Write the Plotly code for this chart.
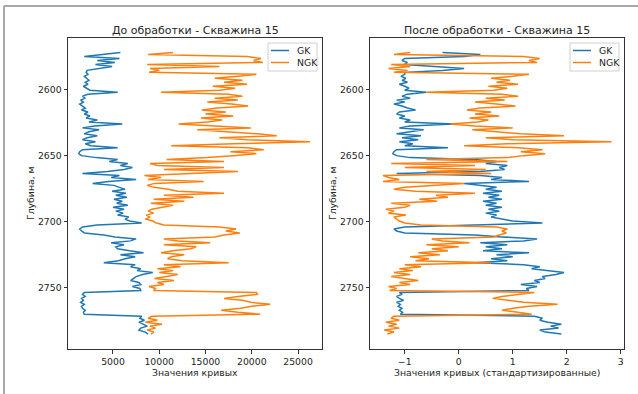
import plotly.graph_objects as go

# ---- data ----
depth = [
    2572.0, 2573.5, 2575.0, 2576.5, 2578.0, 2579.5, 2581.0, 2582.5, 2584.0, 2585.5,
    2587.0, 2588.5, 2590.0, 2591.5, 2593.0, 2594.5, 2596.0, 2597.5, 2599.0, 2600.5,
    2602.0, 2603.5, 2605.0, 2606.5, 2608.0, 2609.5, 2611.0, 2612.5, 2614.0, 2615.5,
    2617.0, 2618.5, 2620.0, 2621.5, 2623.0, 2624.5, 2626.0, 2627.5, 2629.0, 2630.5,
    2632.0, 2633.5, 2635.0, 2636.5, 2638.0, 2639.5, 2641.0, 2642.5, 2644.0, 2645.5,
    2647.0, 2648.5, 2650.0, 2651.5, 2653.0, 2654.5, 2656.0, 2657.5, 2659.0, 2660.5,
    2662.0, 2663.5, 2665.0, 2666.5, 2668.0, 2669.5, 2671.0, 2672.5, 2674.0, 2675.5,
    2677.0, 2678.5, 2680.0, 2681.5, 2683.0, 2684.5, 2686.0, 2687.5, 2689.0, 2690.5,
    2692.0, 2693.5, 2695.0, 2696.5, 2698.0, 2699.5, 2701.0, 2702.5, 2704.0, 2705.5,
    2707.0, 2708.5, 2710.0, 2711.5, 2713.0, 2714.5, 2716.0, 2717.5, 2719.0, 2720.5,
    2722.0, 2723.5, 2725.0, 2726.5, 2728.0, 2729.5, 2731.0, 2732.5, 2734.0, 2735.5,
    2737.0, 2738.5, 2740.0, 2741.5, 2743.0, 2744.5, 2746.0, 2747.5, 2749.0, 2750.5,
    2752.0, 2753.5, 2755.0, 2756.5, 2758.0, 2759.5, 2761.0, 2762.5, 2764.0, 2765.5,
    2767.0, 2768.5, 2770.0, 2771.5, 2773.0, 2774.5, 2776.0, 2777.5, 2779.0, 2780.5,
    2782.0, 2783.5, 2785.0,
]

gk_raw = [
    5800, 3500, 1900, 5700, 3300, 5200, 3100, 4900, 3600, 2200,
    2100, 2300, 1900, 2200, 2400, 2000, 2300, 1800, 2100, 2500,
    5500, 2300, 1700, 2000, 1500, 1800, 1400, 1700, 2000, 1600,
    2300, 1900, 2500, 2100, 3300, 2400, 6000, 3000, 1700, 3500,
    2400, 1900, 3300, 2200, 1700, 3100, 2000, 2600, 5500, 1700,
    1400, 1300, 1600, 3200, 5500, 4600, 6600, 5800, 7100, 6200,
    4400, 1700, 5700, 4800, 7500, 4500, 2800, 5100, 5700, 6300,
    4900, 6400, 5300, 6500, 5100, 6000, 5400, 6600, 5000, 6200,
    5300, 6100, 5500, 6700, 6300, 6800, 8100, 3300, 1700, 1400,
    1600, 1900, 4000, 5200, 7500, 6900, 4800, 6200, 5300, 5500,
    6800, 8300, 5800, 7400, 6300, 5600, 4000, 7400, 6900, 8000,
    7600, 9300, 8200, 7500, 7200, 6900, 7800, 8000, 7100, 7900,
    8000, 1900, 1700, 2000, 1600, 1800, 1500, 1900, 1600, 1700,
    2000, 1800, 1900, 8100, 7900, 8400, 7800, 8200, 8700, 8000,
    7800, 8500, 8800,
]

ngk_raw = [
    11500, 8800, 19500, 21000, 20200, 21200, 8700, 16500, 9000, 10000,
    8900, 20500, 18500, 16000, 19000, 17000, 19500, 15800, 18200, 16500,
    10200, 17500, 19000, 16000, 18500, 15200, 17800, 19600, 16300, 14600,
    17200, 15000, 18000, 14500, 16800, 15200, 12100, 15500, 19900, 14100,
    18000, 20600, 22700, 16500, 19500, 26300, 18000, 11300, 19500, 21300,
    17700, 20500, 18000, 15200, 10800, 17000, 9000, 9800, 17000, 10500,
    18500, 12300, 8400, 10200, 8800, 14800, 9500, 8700, 9400, 11000,
    12000, 17000, 10500, 13700, 9400, 12700, 9100, 11500, 10300, 9200,
    8800, 9400, 8600, 9000, 8500, 9300, 9700, 10500, 16500, 18300,
    17200, 18700, 17000, 16000, 10500, 12000, 15500, 10500, 14000, 13400,
    11500, 10200, 12700, 11300, 10900, 12500, 17500, 10500, 12300, 9800,
    11500, 10000, 12000, 10800, 9500, 11600, 9800, 10500, 8900, 9600,
    9400, 20500, 20600, 18500, 17000, 19000, 19900, 22000, 20000, 18800,
    16700, 18500, 20900, 9200, 8800, 9800, 8500, 10300, 9000, 9600,
    8700, 9400, 9100,
]

gk_std = [
    -0.3, 0.4, 0.1, -1.0, -1.05, -0.95, -1.0, -0.4, 0.1, -0.3,
    -1.0, -1.0, -1.07, -0.98, -1.05, -0.95, -1.1, -1.0, -0.92, -1.0,
    -0.6, -0.95, -1.05, -0.9, -1.15, -1.0, -1.2, -1.05, -0.95, -0.8,
    -1.1, -1.15, -1.0, -1.1, -0.9, -1.0, -0.1, -0.9, -1.1, -0.65,
    -0.95, -1.15, -0.7, -1.05, -0.75, -1.1, -0.85, -1.0, -0.2, -1.15,
    -1.2, -1.22, -1.15, -0.9, 0.3, 0.7, 0.5, 0.9, 0.75, 0.85,
    0.4, -1.15, 0.4, 0.8, 0.6, 1.3, 0.1, 0.4, 0.7, 0.5,
    0.8, 0.45, 0.75, 0.55, 0.8, 0.45, 0.7, 0.5, 0.8, 0.55,
    0.75, 0.5, 0.7, 0.6, 0.8, 1.0, 1.55, 0.2, -1.0, -1.2,
    -1.15, -1.0, 0.3, 0.8, 1.45, 1.2, 0.4, 0.9, 0.5, 0.8,
    0.45, 1.3, 0.7, 1.0, 0.6, 0.9, 0.3, 1.2, 1.5, 1.35,
    1.7, 1.95, 1.8, 1.55, 1.6, 1.4, 1.5, 1.15, 1.45, 1.25,
    1.3, -1.1, -1.05, -1.15, -1.1, -1.02, -1.15, -1.08, -1.12, -1.05,
    -1.1, -1.04, -1.08, 1.4, 1.55, 1.5, 1.65, 1.9, 1.7, 1.85,
    1.5, 1.6, 1.9,
]

ngk_std = [
    -0.9, -1.2, 1.2, 1.5, 1.3, 1.45, -1.25, -0.9, -1.3, -0.95,
    -1.2, 1.3, 1.0, 0.6, 0.95, 0.7, 1.1, 0.55, 0.9, 0.65,
    -0.6, 0.8, 1.1, 0.5, 0.85, 0.3, 0.7, 1.05, 0.4, 0.15,
    0.6, 0.3, 0.75, 0.2, 0.55, 0.35, -0.15, 0.3, 1.0, 0.25,
    0.7, 1.15, 1.95, 0.5, 1.0, 2.83, 0.9, 0.1, 1.1, 1.55,
    1.15, 1.6, 1.2, 0.9, -0.6, 0.9, -1.25, 0.3, -1.0, 0.5,
    -0.6, 0.6, -1.4, -1.3, -1.1, -1.4, 0.1, -0.5, -1.0, -1.2,
    -0.8, 0.3, -0.42, -0.2, -0.73, -0.4, -1.25, -0.9, -1.0, -1.35,
    -1.2, -1.3, -0.98, -1.2, -1.15, -1.1, -1.0, -0.7, 0.7, 0.9,
    0.8, 0.88, 0.75, 0.65, -0.5, -0.3, 0.2, -0.6, 0.0, -0.5,
    -0.2, -0.75, -0.35, -0.9, -0.55, -0.8, 0.6, -1.0, -0.7, -1.1,
    -0.85, -1.2, -0.9, -1.25, -1.0, -0.75, -1.1, -0.9, -1.3, -1.15,
    -1.28, 1.4, 1.1, 0.8, 0.63, 0.9, 1.2, 1.83, 1.3, 1.0,
    0.8, 1.1, 1.35, -1.2, -1.25, -1.1, -1.35, -1.15, -1.3, -1.1,
    -1.38, -1.2, -1.32,
]

series_names = ["GK", "NGK"]
depth_ticks = [2600, 2650, 2700, 2750]
raw_ticks = [5000, 10000, 15000, 20000, 25000]
raw_tick_text = ["5000", "10000", "15000", "20000", "25000"]
std_ticks = [-1, 0, 1, 2, 3]
std_tick_text = ["\u22121", "0", "1", "2", "3"]
titles = ["До обработки - Скважина 15", "После обработки - Скважина 15"]
xlabels = ["Значения кривых", "Значения кривых (стандартизированные)"]
ylabel = "Глубина, м"

# ---- layout in pixels ----
W, H = 638, 394
def fx(x):
    return x / W
def fy(y):
    return 1 - y / H

BLUE, ORANGE = "#1f77b4", "#ff7f0e"
COLORS = [BLUE, ORANGE]
FONT = "DejaVu Sans"
TXT = "#262626"

fig = go.Figure()
fig.add_trace(go.Scatter(x=gk_raw, y=depth, mode="lines", name=series_names[0],
                         line=dict(color=BLUE, width=1.5), xaxis="x", yaxis="y"))
fig.add_trace(go.Scatter(x=ngk_raw, y=depth, mode="lines", name=series_names[1],
                         line=dict(color=ORANGE, width=1.5), xaxis="x", yaxis="y"))
fig.add_trace(go.Scatter(x=gk_std, y=depth, mode="lines", name=series_names[0],
                         line=dict(color=BLUE, width=1.5), xaxis="x2", yaxis="y2"))
fig.add_trace(go.Scatter(x=ngk_std, y=depth, mode="lines", name=series_names[1],
                         line=dict(color=ORANGE, width=1.5), xaxis="x2", yaxis="y2"))

axis_common = dict(showline=True, linecolor="#333333", linewidth=1, mirror=True,
                   ticks="outside", ticklen=3.5, tickwidth=1, tickcolor="#333333",
                   showgrid=False, zeroline=False,
                   tickfont=dict(family=FONT, size=9.3, color=TXT))

ydom = [fy(349), fy(38)]
fig.update_layout(
    width=W, height=H, margin=dict(l=0, r=0, t=0, b=0),
    paper_bgcolor="white", plot_bgcolor="white",
    showlegend=False,
    xaxis=dict(domain=[fx(68), fx(322)], range=[136, 27595], tickvals=raw_ticks,
               ticktext=raw_tick_text, anchor="y", **axis_common),
    yaxis=dict(domain=ydom, range=[2796.3, 2561.0], tickvals=depth_ticks,
               anchor="x", **axis_common),
    xaxis2=dict(domain=[fx(370), fx(624)], range=[-1.643, 3.06], tickvals=std_ticks,
                ticktext=std_tick_text, anchor="y2", **axis_common),
    yaxis2=dict(domain=ydom, range=[2796.3, 2561.0], tickvals=depth_ticks,
                anchor="x2", **axis_common),
)

anns = []
shapes = []
panels = [((68 + 322) / 2, titles[0], xlabels[0], 30.5, 268),
          ((370 + 624) / 2, titles[1], xlabels[1], 332.5, 570)]
for cx, t, xl, ylx, lgx in panels:
    anns.append(dict(x=fx(cx), y=fy(30), xref="paper", yref="paper", text=t, showarrow=False,
                     xanchor="center", yanchor="middle", font=dict(family=FONT, size=11, color=TXT)))
    anns.append(dict(x=fx(cx), y=fy(372), xref="paper", yref="paper", text=xl, showarrow=False,
                     xanchor="center", yanchor="middle", font=dict(family=FONT, size=9.3, color=TXT)))
    anns.append(dict(x=fx(ylx), y=fy(193.5), xref="paper", yref="paper", text=ylabel, showarrow=False,
                     textangle=-90, xanchor="center", yanchor="middle",
                     font=dict(family=FONT, size=9.3, color=TXT)))
    # legend box (matplotlib style, upper right)
    shapes.append(dict(type="rect", xref="paper", yref="paper", layer="above",
                       x0=fx(lgx), x1=fx(lgx + 49), y0=fy(71), y1=fy(43),
                       fillcolor="rgba(255,255,255,0.8)", line=dict(color="#d0d0d0", width=1)))
    for i, (nm, col) in enumerate(zip(series_names, COLORS)):
        yy = 50.5 + 12 * i
        shapes.append(dict(type="line", xref="paper", yref="paper", layer="above",
                           x0=fx(lgx + 3), x1=fx(lgx + 21), y0=fy(yy), y1=fy(yy),
                           line=dict(color=col, width=1.5)))
        anns.append(dict(x=fx(lgx + 27), y=fy(yy), xref="paper", yref="paper", text=nm,
                         showarrow=False, xanchor="left", yanchor="middle",
                         font=dict(family=FONT, size=9.3, color=TXT)))

# frame of the output cell (grey top and left border)
shapes.append(dict(type="line", xref="paper", yref="paper", x0=fx(4), x1=1, y0=fy(6), y1=fy(6),
                   line=dict(color="#a8a8a8", width=2)))
shapes.append(dict(type="line", xref="paper", yref="paper", x0=fx(4), x1=fx(4), y0=fy(6), y1=0,
                   line=dict(color="#a8a8a8", width=2)))
fig.update_layout(annotations=anns, shapes=shapes)

fig.write_html("out.html")
